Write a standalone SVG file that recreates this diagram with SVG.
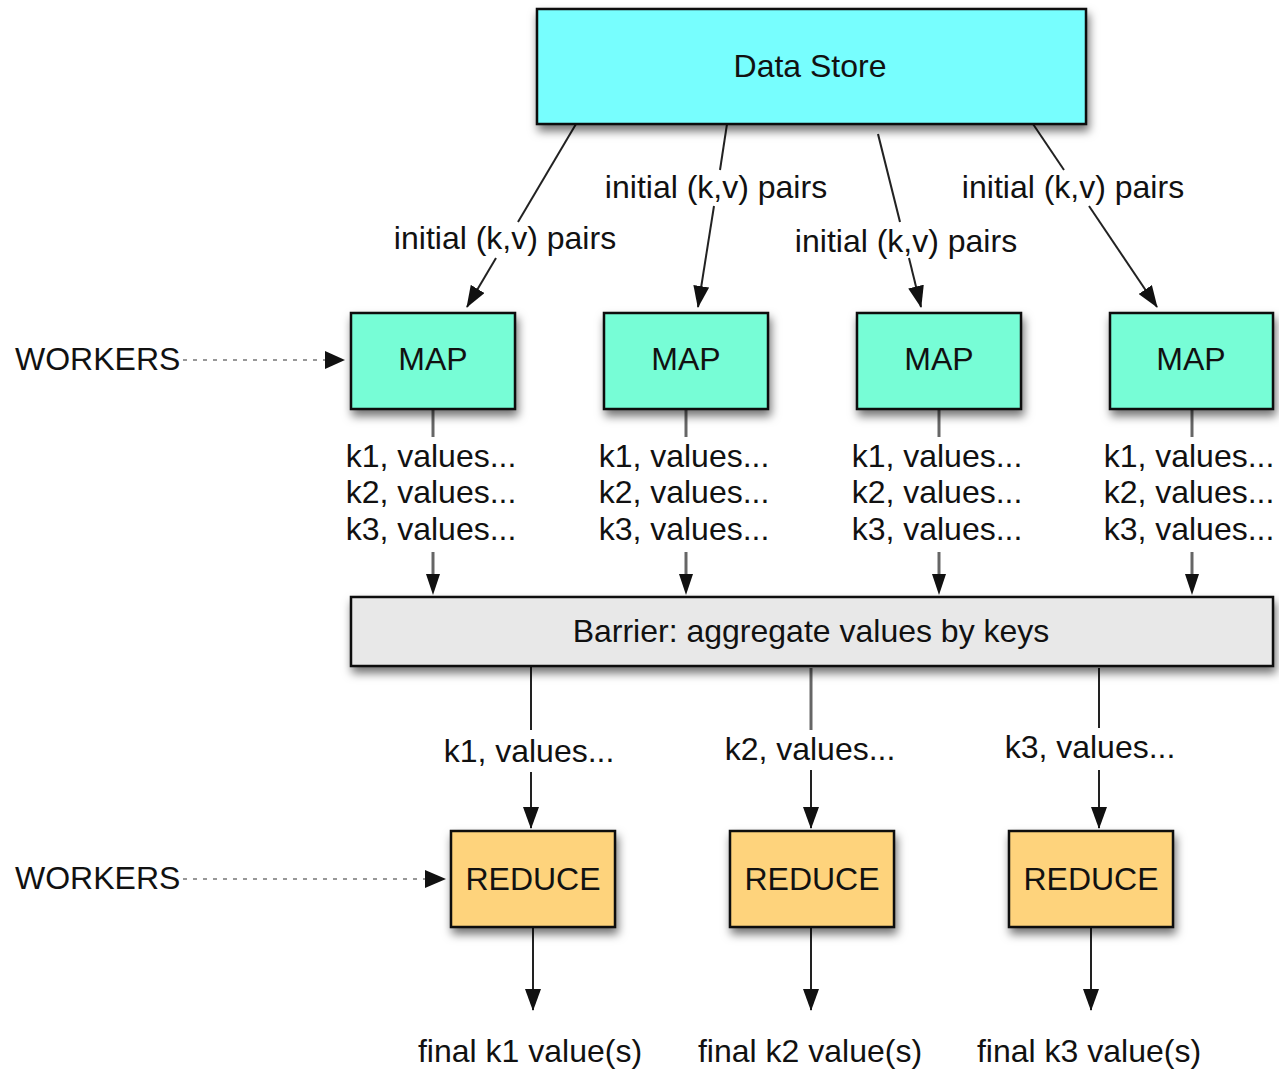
<svg xmlns="http://www.w3.org/2000/svg" width="1279" height="1071" viewBox="0 0 1279 1071">
<style>
text{font-family:"Liberation Sans",Arial,sans-serif;font-size:32px;fill:#111;}
.c{text-anchor:middle;}
.box{stroke:#111;stroke-width:2.5;filter:url(#sh);}
.ln{stroke:#222;stroke-width:2;fill:none;}
.gl{stroke:#666;stroke-width:3;fill:none;}
.dot{stroke:#777;stroke-width:1.5;stroke-dasharray:4 6;fill:none;}
</style>
<defs>
<filter id="sh" x="-20%" y="-20%" width="150%" height="160%">
<feDropShadow dx="2" dy="6" stdDeviation="5" flood-color="#000" flood-opacity="0.55"/>
</filter>
<marker id="ah" viewBox="0 0 22 16" refX="21" refY="8" markerWidth="22" markerHeight="16" markerUnits="userSpaceOnUse" orient="auto">
<path d="M0,0 L22,8 L0,16 z" fill="#111"/>
</marker>
</defs>

<g id="connectors">
<line class="ln" x1="576" y1="124" x2="518" y2="222"/>
<line class="ln" x1="496" y1="258" x2="467" y2="307" marker-end="url(#ah)"/>
<line class="ln" x1="727" y1="124" x2="720" y2="170"/>
<line class="ln" x1="714" y1="206" x2="698" y2="307" marker-end="url(#ah)"/>
<line class="ln" x1="878" y1="134" x2="900" y2="222"/>
<line class="ln" x1="909" y1="258" x2="921" y2="307" marker-end="url(#ah)"/>
<line class="ln" x1="1033" y1="124" x2="1064" y2="170"/>
<line class="ln" x1="1089" y1="206" x2="1157" y2="307" marker-end="url(#ah)"/>
<line class="dot" x1="183" y1="360" x2="330" y2="360"/>
<path d="M325,351 L345,360 L325,369 z" fill="#111"/>
<line class="dot" x1="183" y1="879" x2="428" y2="879"/>
<path d="M425,870 L446,879 L425,888 z" fill="#111"/>
<line class="gl" x1="433" y1="410" x2="433" y2="437"/>
<line class="gl" x1="686" y1="410" x2="686" y2="437"/>
<line class="gl" x1="939" y1="410" x2="939" y2="437"/>
<line class="gl" x1="1192" y1="410" x2="1192" y2="437"/>
<line class="gl" x1="433" y1="552" x2="433" y2="580"/>
<line class="gl" x1="686" y1="552" x2="686" y2="580"/>
<line class="gl" x1="939" y1="552" x2="939" y2="580"/>
<line class="gl" x1="1192" y1="552" x2="1192" y2="580"/>
<path d="M426,574 L433,595 L440,574 z" fill="#111"/>
<path d="M679,574 L686,595 L693,574 z" fill="#111"/>
<path d="M932,574 L939,595 L946,574 z" fill="#111"/>
<path d="M1185,574 L1192,595 L1199,574 z" fill="#111"/>
<line class="ln" x1="531" y1="663" x2="531" y2="730"/>
<line class="ln" x1="531" y1="772" x2="531" y2="828" marker-end="url(#ah)"/>
<line class="gl" x1="811" y1="668" x2="811" y2="730"/>
<line class="ln" x1="811" y1="770" x2="811" y2="828" marker-end="url(#ah)"/>
<line class="ln" x1="1099" y1="668" x2="1099" y2="728"/>
<line class="ln" x1="1099" y1="770" x2="1099" y2="828" marker-end="url(#ah)"/>
<line class="ln" x1="533" y1="928" x2="533" y2="1010" marker-end="url(#ah)"/>
<line class="ln" x1="811" y1="928" x2="811" y2="1010" marker-end="url(#ah)"/>
<line class="ln" x1="1091" y1="928" x2="1091" y2="1010" marker-end="url(#ah)"/>
</g>

<g id="data-store">
<rect class="box" x="537" y="9" width="549" height="115" fill="#77FEFE"/>
<text class="c" x="810" y="77">Data Store</text>
</g>

<g id="labels-initial">
<text class="c" x="505" y="249">initial (k,v) pairs</text>
<text class="c" x="716" y="198">initial (k,v) pairs</text>
<text class="c" x="906" y="252">initial (k,v) pairs</text>
<text class="c" x="1073" y="198">initial (k,v) pairs</text>
</g>

<g id="workers-map"><text x="15" y="370">WORKERS</text></g>
<g id="workers-reduce"><text x="15" y="889">WORKERS</text></g>

<g id="map1">
<rect class="box" x="351" y="313" width="164" height="96" fill="#77FDD6"/>
<text class="c" x="433" y="370">MAP</text>
</g>
<g id="map2">
<rect class="box" x="604" y="313" width="164" height="96" fill="#77FDD6"/>
<text class="c" x="686" y="370">MAP</text>
</g>
<g id="map3">
<rect class="box" x="857" y="313" width="164" height="96" fill="#77FDD6"/>
<text class="c" x="939" y="370">MAP</text>
</g>
<g id="map4">
<rect class="box" x="1110" y="313" width="163" height="96" fill="#77FDD6"/>
<text class="c" x="1191" y="370">MAP</text>
</g>

<g id="map-outputs">
<text class="c" x="431" y="467">k1, values...</text>
<text class="c" x="431" y="503">k2, values...</text>
<text class="c" x="431" y="540">k3, values...</text>
<text class="c" x="684" y="467">k1, values...</text>
<text class="c" x="684" y="503">k2, values...</text>
<text class="c" x="684" y="540">k3, values...</text>
<text class="c" x="937" y="467">k1, values...</text>
<text class="c" x="937" y="503">k2, values...</text>
<text class="c" x="937" y="540">k3, values...</text>
<text class="c" x="1189" y="467">k1, values...</text>
<text class="c" x="1189" y="503">k2, values...</text>
<text class="c" x="1189" y="540">k3, values...</text>
</g>

<g id="barrier">
<rect class="box" x="351" y="597" width="922" height="69" fill="#E8E8E8"/>
<text class="c" x="811" y="642">Barrier: aggregate values by keys</text>
</g>

<g id="reduce-inputs">
<text class="c" x="529" y="762">k1, values...</text>
<text class="c" x="810" y="760">k2, values...</text>
<text class="c" x="1090" y="758">k3, values...</text>
</g>

<g id="reduce1">
<rect class="box" x="451" y="831" width="164" height="96" fill="#FED37B"/>
<text class="c" x="533" y="890">REDUCE</text>
</g>
<g id="reduce2">
<rect class="box" x="730" y="831" width="164" height="96" fill="#FED37B"/>
<text class="c" x="812" y="890">REDUCE</text>
</g>
<g id="reduce3">
<rect class="box" x="1009" y="831" width="164" height="96" fill="#FED37B"/>
<text class="c" x="1091" y="890">REDUCE</text>
</g>

<g id="outputs">
<text class="c" x="530" y="1062">final k1 value(s)</text>
<text class="c" x="810" y="1062">final k2 value(s)</text>
<text class="c" x="1089" y="1062">final k3 value(s)</text>
</g>
</svg>
